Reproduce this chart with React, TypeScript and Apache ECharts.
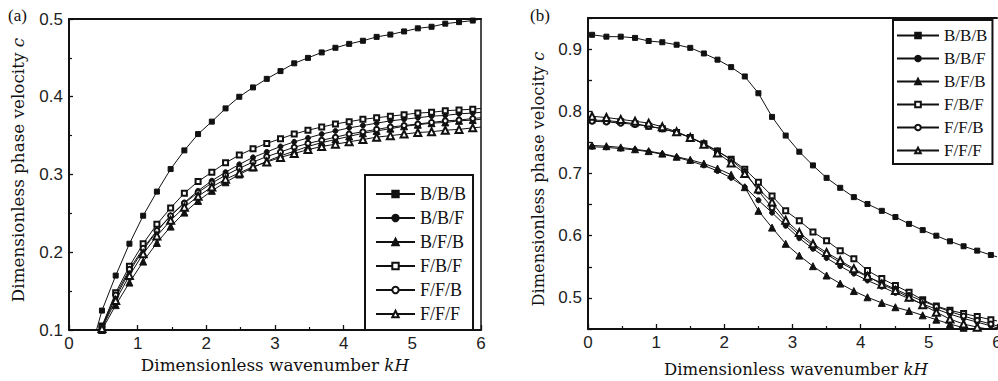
import React, { useEffect, useRef } from 'react';
import * as echarts from 'echarts';

const seriesNames = ['B/B/B', 'B/B/F', 'B/F/B', 'F/B/F', 'F/F/B', 'F/F/F'];
const seriesSymbols = ['rect', 'circle', 'triangle', 'emptyRect', 'emptyCircle', 'emptyTriangle'];
const symbolSizes = [5, 5, 7, 5, 5, 7];

// ---------- panel (a) ----------
const kHa = [0.48, 0.68, 0.88, 1.08, 1.28, 1.48, 1.68, 1.88, 2.08, 2.28, 2.48, 2.68, 2.88, 3.08, 3.28, 3.48, 3.68, 3.88, 4.08, 4.28, 4.48, 4.68, 4.88, 5.08, 5.28, 5.48, 5.68, 5.88];
const aBBB = [0.125, 0.170, 0.211, 0.247, 0.278, 0.307, 0.331, 0.352, 0.368, 0.385, 0.400, 0.412, 0.423, 0.433, 0.443, 0.450, 0.457, 0.463, 0.468, 0.472, 0.477, 0.480, 0.484, 0.488, 0.490, 0.494, 0.496, 0.498];
const aBBF = [0.103, 0.142, 0.175, 0.203, 0.227, 0.247, 0.264, 0.279, 0.292, 0.303, 0.313, 0.322, 0.329, 0.336, 0.342, 0.347, 0.352, 0.356, 0.360, 0.363, 0.366, 0.369, 0.371, 0.373, 0.375, 0.376, 0.378, 0.379];
const aBFB = [0.100, 0.132, 0.161, 0.188, 0.212, 0.233, 0.251, 0.266, 0.279, 0.290, 0.300, 0.309, 0.317, 0.324, 0.330, 0.336, 0.341, 0.345, 0.349, 0.353, 0.356, 0.359, 0.362, 0.364, 0.366, 0.367, 0.369, 0.370];
const aFBF = [0.105, 0.148, 0.182, 0.211, 0.236, 0.257, 0.276, 0.291, 0.303, 0.315, 0.325, 0.333, 0.340, 0.346, 0.352, 0.357, 0.361, 0.365, 0.368, 0.371, 0.373, 0.375, 0.377, 0.379, 0.380, 0.382, 0.383, 0.384];
const aFFB = [0.104, 0.145, 0.178, 0.205, 0.228, 0.247, 0.263, 0.277, 0.289, 0.299, 0.308, 0.316, 0.323, 0.329, 0.335, 0.340, 0.344, 0.348, 0.352, 0.355, 0.358, 0.361, 0.363, 0.365, 0.367, 0.369, 0.370, 0.372];
const aFFF = [0.102, 0.138, 0.170, 0.198, 0.221, 0.241, 0.258, 0.272, 0.284, 0.294, 0.302, 0.310, 0.316, 0.322, 0.327, 0.332, 0.336, 0.339, 0.342, 0.345, 0.348, 0.350, 0.352, 0.354, 0.355, 0.357, 0.358, 0.360];
const aStartX = [0.40, 0.40, 0.40, 0.40, 0.40, 0.40];
const aStartY = [0.100, 0.080, 0.080, 0.080, 0.080, 0.080];
const aEnd = [0.500, 0.380, 0.371, 0.385, 0.373, 0.361];

// ---------- panel (b) ----------
const kHb = [0.06, 0.27, 0.48, 0.69, 0.89, 1.09, 1.30, 1.50, 1.70, 1.90, 2.10, 2.30, 2.50, 2.70, 2.90, 3.10, 3.30, 3.50, 3.70, 3.90, 4.10, 4.31, 4.51, 4.71, 4.91, 5.11, 5.31, 5.51, 5.71, 5.91];
const bBBB = [0.923, 0.920, 0.920, 0.918, 0.913, 0.911, 0.907, 0.902, 0.893, 0.883, 0.871, 0.856, 0.829, 0.791, 0.761, 0.735, 0.713, 0.693, 0.677, 0.662, 0.651, 0.640, 0.630, 0.619, 0.609, 0.600, 0.591, 0.583, 0.576, 0.569];
const bBBF = [0.743, 0.742, 0.740, 0.738, 0.735, 0.731, 0.726, 0.720, 0.713, 0.704, 0.693, 0.678, 0.657, 0.637, 0.616, 0.596, 0.579, 0.564, 0.551, 0.539, 0.528, 0.518, 0.508, 0.499, 0.490, 0.482, 0.474, 0.467, 0.461, 0.455];
const bBFB = [0.745, 0.744, 0.742, 0.739, 0.736, 0.732, 0.727, 0.722, 0.716, 0.708, 0.698, 0.678, 0.640, 0.613, 0.587, 0.568, 0.551, 0.536, 0.523, 0.511, 0.501, 0.492, 0.485, 0.479, 0.472, 0.465, 0.458, 0.452, 0.447, 0.443];
const bFBF = [0.786, 0.785, 0.783, 0.780, 0.776, 0.772, 0.766, 0.758, 0.748, 0.736, 0.723, 0.707, 0.686, 0.664, 0.640, 0.624, 0.606, 0.592, 0.576, 0.563, 0.544, 0.531, 0.520, 0.509, 0.497, 0.487, 0.480, 0.475, 0.470, 0.465];
const bFFB = [0.784, 0.783, 0.781, 0.779, 0.776, 0.772, 0.766, 0.758, 0.748, 0.736, 0.722, 0.703, 0.672, 0.645, 0.621, 0.601, 0.584, 0.570, 0.557, 0.545, 0.534, 0.524, 0.514, 0.504, 0.495, 0.486, 0.478, 0.471, 0.464, 0.458];
const bFFF = [0.792, 0.790, 0.787, 0.784, 0.781, 0.775, 0.767, 0.758, 0.747, 0.733, 0.717, 0.700, 0.675, 0.654, 0.625, 0.605, 0.587, 0.573, 0.560, 0.547, 0.535, 0.522, 0.512, 0.501, 0.489, 0.477, 0.466, 0.458, 0.453, 0.449];
const bEnd = [0.566, 0.452, 0.441, 0.463, 0.455, 0.447];

const aValues = [aBBB, aBBF, aBFB, aFBF, aFFB, aFFF];
const bValues = [bBBB, bBBF, bBFB, bFBF, bFFB, bFFF];

const INK = '#111';
const SANS = 'Liberation Sans, Arial, sans-serif';
const SERIF = 'Liberation Serif, Times New Roman, serif';
const TITLE = 'DejaVu Serif, serif';

const tenthLabel = (v: number) => (Math.abs(v * 10 - Math.round(v * 10)) < 1e-6 ? v.toFixed(1) : '');

function buildSeries(xs: number[], vals: number[][], ends: number[], axis: number, starts?: { x: number[]; y: number[] }) {
  return vals.map((ys, k) => {
    const data: any[] = [];
    if (starts) data.push({ value: [starts.x[k], starts.y[k]], symbol: 'none' });
    xs.forEach((x, i) => data.push([x, ys[i]]));
    data.push({ value: [6, ends[k]], symbol: 'none' });
    return {
      type: 'line',
      name: seriesNames[k],
      xAxisIndex: axis,
      yAxisIndex: axis,
      data,
      symbol: seriesSymbols[k],
      symbolSize: symbolSizes[k],
      showAllSymbol: true,
      clip: true,
      lineStyle: { color: INK, width: 1 },
      itemStyle: { color: INK, borderColor: INK, borderWidth: 1 },
      emphasis: { disabled: true },
      z: 3,
    };
  });
}

function bottomAxis(grid: number) {
  return {
    gridIndex: grid,
    type: 'value',
    position: 'bottom',
    min: 0,
    max: 6,
    interval: 1,
    axisLine: { show: true, lineStyle: { color: INK, width: 2 } },
    axisTick: { show: true, inside: true, length: 5, lineStyle: { color: INK, width: 1.3 } },
    minorTick: { show: true, splitNumber: 2, length: 3, lineStyle: { color: INK, width: 1.2 } },
    axisLabel: { fontFamily: SANS, fontSize: 17, color: '#222', margin: 5 },
    splitLine: { show: false },
  };
}
function topAxis(grid: number) {
  return {
    gridIndex: grid,
    type: 'value',
    position: 'top',
    min: 0,
    max: 6,
    axisLine: { show: true, lineStyle: { color: INK, width: 2 } },
    axisTick: { show: false },
    axisLabel: { show: false },
    splitLine: { show: false },
  };
}

function titleText(x: number, y: number, main: string, ital: string, size: number, vertical: boolean) {
  return {
    type: 'text',
    x,
    y,
    rotation: vertical ? Math.PI / 2 : 0,
    style: {
      text: `{n|${main}}{i|${ital}}`,
      align: 'center', verticalAlign: 'middle', textAlign: 'center', textVerticalAlign: 'middle',
      fill: INK,
      rich: {
        n: { fontFamily: TITLE, fontSize: size, fill: INK },
        i: { fontFamily: TITLE, fontSize: size, fontStyle: 'italic', fill: INK },
      },
    },
  };
}

export default function App() {
  const ref = useRef<HTMLDivElement>(null);
  useEffect(() => {
    if (!ref.current) return;
    const chart = echarts.init(ref.current, undefined, { renderer: 'svg' });
    const legendCommon = {
      orient: 'vertical',
      selectedMode: false,
      data: seriesNames,
      borderColor: INK,
      borderWidth: 2,
      backgroundColor: '#fff',
      borderRadius: 0,
      itemGap: 6,
      z: 10,
    };
    const leftSeries = buildSeries(kHa, aValues, aEnd, 0, { x: aStartX, y: aStartY });
    const rightSeries = buildSeries(kHb, bValues, bEnd, 2);
    const option: any = {
      animation: false,
      backgroundColor: '#fff',
      grid: [
        { left: 69, top: 19, width: 412, height: 311, containLabel: false, outerBoundsMode: 'none' },
        { left: 588, top: 18, width: 409, height: 311, containLabel: false, outerBoundsMode: 'none' },
      ],
      xAxis: [bottomAxis(0), topAxis(0), bottomAxis(1), topAxis(1)],
      yAxis: [
        {
          gridIndex: 0,
          type: 'value',
          min: 0.1,
          max: 0.5,
          interval: 0.1,
          axisLine: { show: true, lineStyle: { color: INK, width: 2 } },
          axisTick: { show: true, inside: true, length: 4, lineStyle: { color: INK, width: 1.3 } },
          minorTick: { show: true, splitNumber: 2, length: 3, lineStyle: { color: INK, width: 1.2 } },
          axisLabel: { fontFamily: SANS, fontSize: 17, color: '#222', margin: 6, formatter: tenthLabel },
          splitLine: { show: false },
        },
        {
          gridIndex: 0,
          type: 'value',
          position: 'right',
          min: 0.1,
          max: 0.5,
          axisLine: { show: true, onZero: false, lineStyle: { color: INK, width: 1.5 } },
          axisTick: { show: false },
          axisLabel: { show: false },
          splitLine: { show: false },
        },
        {
          gridIndex: 1,
          type: 'value',
          min: 0.45,
          max: 0.95,
          interval: 0.05,
          axisLine: { show: true, lineStyle: { color: INK, width: 2 } },
          axisTick: { show: true, inside: true, length: 4, lineStyle: { color: INK, width: 1.3 } },
          axisLabel: { fontFamily: SANS, fontSize: 17, color: '#222', margin: 6, formatter: tenthLabel },
          splitLine: { show: false },
        },
      ],
      legend: [
        {
          ...legendCommon,
          left: 365,
          top: 175,
          itemWidth: 39,
          itemHeight: 8,
          padding: [10, 7, 7, 10],
          textStyle: { fontFamily: SERIF, fontSize: 18, color: INK, lineHeight: 14 },
        },
        {
          ...legendCommon,
          left: 893,
          top: 20,
          itemWidth: 42,
          itemHeight: 7,
          padding: [7, 5, 5, 3],
          textStyle: { fontFamily: SERIF, fontSize: 17, color: INK, lineHeight: 14 },
        },
      ],
      graphic: [
        { type: 'text', left: 8, top: 7, style: { text: '(a)', fontFamily: SERIF, fontSize: 17, fill: INK } },
        { type: 'text', left: 530, top: 7, style: { text: '(b)', fontFamily: SERIF, fontSize: 17, fill: INK } },
        titleText(275, 365, 'Dimensionless wavenumber ', 'kH', 16.8, false),
        titleText(796, 369, 'Dimensionless wavenumber ', 'kH', 16.5, false),
        titleText(18, 170, 'Dimensionless phase velocity ', 'c', 16.8, true),
        titleText(538, 179, 'Dimensionless phase velocity ', 'c', 16.2, true),
      ],
      series: [
        ...leftSeries,
        ...rightSeries.map((s: any) => ({ ...s, xAxisIndex: 2, yAxisIndex: 2 })),
      ],
    };
    chart.setOption(option);
    return () => chart.dispose();
  }, []);
  return <div ref={ref} style={{ position: 'absolute', left: 0, top: 0, width: 998, height: 381 }} />;
}
